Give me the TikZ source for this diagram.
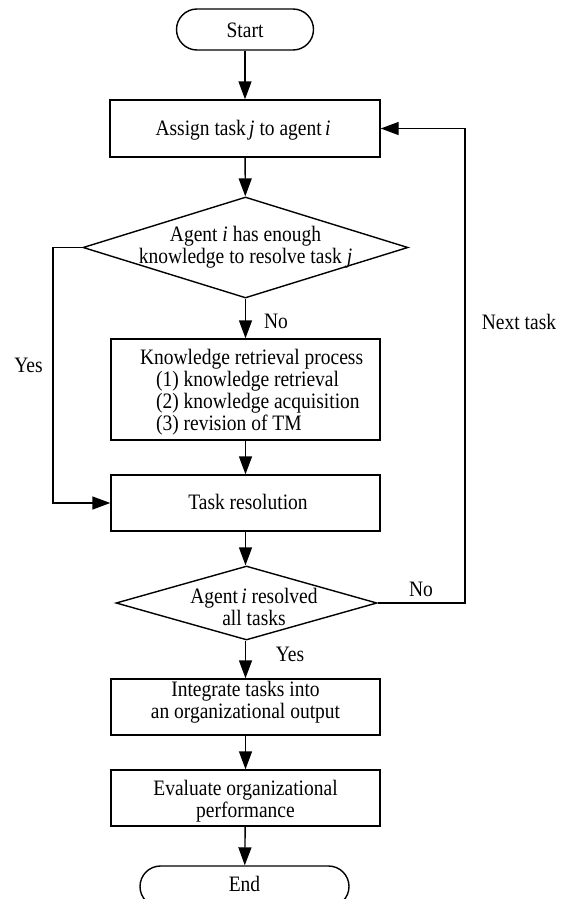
\documentclass[tikz,border=0pt]{standalone}
\usepackage{fontspec}
\setmainfont{Liberation Serif}
\usetikzlibrary{shapes.geometric,shapes.misc,arrows.meta}
\newcommand\tc[1]{\scalebox{1}[1.13]{\begin{tabular}{@{}c@{}}#1\end{tabular}}}
\newcommand\tl[1]{\scalebox{1}[1.13]{\begin{tabular}{@{}l@{}}#1\end{tabular}}}
\begin{document}
\begin{tikzpicture}[x=1pt,y=-1pt, line width=1.4pt,
  every node/.style={font=\fontsize{19.5}{19.5}\selectfont},
  box/.style={draw, rectangle, minimum width=269pt, minimum height=56pt, inner sep=0pt, align=center},
  term/.style={draw, rounded rectangle, inner sep=0pt},
  dec/.style={draw, diamond, inner sep=0pt},
  arr/.style={-{Triangle[length=18pt,width=13pt]}}]
\useasboundingbox (0,0) rectangle (568,899);

\node[term, minimum width=137pt, minimum height=41pt] (start) at (245,29.5) {};
\node (startt) at (245,33) {\tc{Start}};
\node[box, minimum width=270pt, minimum height=57pt] (assign) at (245,128.5) {};
\node (assignt) at (243,131) {\tc{Assign task\,\textit{j} to agent\,\textit{i}}};
\node[dec, minimum width=325pt, minimum height=101pt] (d1) at (245.5,247.5) {};
\node (d1t) at (245.5,248) {\tc{Agent \textit{i} has enough\\knowledge to resolve task \textit{j}}};
\node[box, minimum height=101pt] (know) at (245.5,389.5) {};
\node[anchor=west] (knowt) at (136,393) {\tl{Knowledge retrieval process\\\hspace*{16pt}(1) knowledge retrieval\\\hspace*{16pt}(2) knowledge acquisition\\\hspace*{16pt}(3) revision of TM}};
\node[box] (task) at (245.5,503) {};
\node (taskt) at (248,505) {\tc{Task resolution}};
\node[dec, minimum width=261pt, minimum height=74pt] (d2) at (246.5,603) {};
\node (d2t) at (254,610) {\tc{Agent\,\textit{i} resolved\\all tasks}};
\node[box] (integ) at (245.5,707) {};
\node (integt) at (245.5,703) {\tc{Integrate tasks into\\an organizational output}};
\node[box] (eval) at (245.5,798) {};
\node (evalt) at (245.5,802) {\tc{Evaluate organizational\\performance}};
\node[term, minimum width=209pt, minimum height=41pt] (end) at (244.5,886.5) {};
\node (endt) at (244.5,887) {\tc{End}};

\coordinate (yl) at (53,247.5);
\coordinate (yb) at (53,503);
\coordinate (nr) at (465,603);
\coordinate (nt) at (465,128.5);

\draw[arr] (start) -- (assign);
\draw[arr] (assign) -- (d1);
\draw[arr] (d1) -- (know);
\draw[arr] (know) -- (task);
\draw[arr] (task.south) -- (d2.north -| task.south);
\draw[arr] (d2.south -| integ.north) -- (integ);
\draw[arr] (integ) -- (eval);
\draw[arr] (eval) -- (end);
\draw[arr] (d1.west) -- (yl) -- (yb) -- (task.west);
\draw[arr] (d2.east) -- (nr) -- (nt) -- (assign.east);

\node (lyes1) at (28.5,368) {\tc{Yes}};
\node (lno1) at (276,324) {\tc{No}};
\node (lnext) at (519,325) {\tc{Next task}};
\node (lno2) at (421,592) {\tc{No}};
\node (lyes2) at (290,657) {\tc{Yes}};
\end{tikzpicture}
\end{document}
